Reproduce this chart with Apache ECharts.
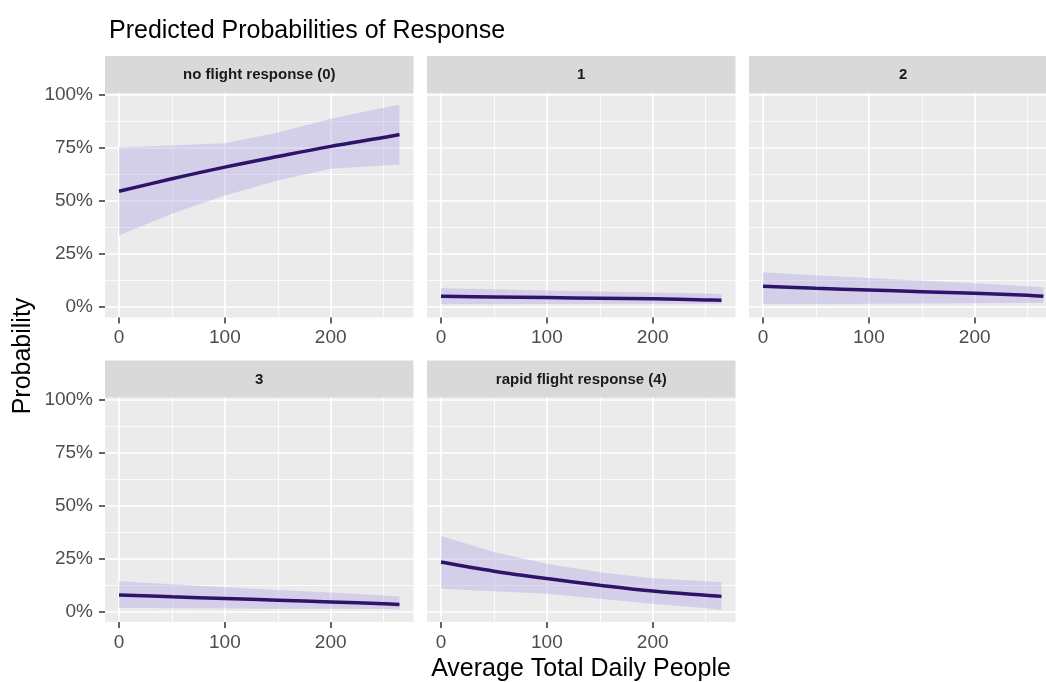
<!DOCTYPE html>
<html>
<head>
<meta charset="utf-8">
<script src="https://cdn.jsdelivr.net/npm/echarts@6/dist/echarts.min.js"></script>
<style>
html,body{margin:0;padding:0;background:#ffffff;}
#chart{width:1046px;height:682px;}
</style>
</head>
<body>
<div id="chart"></div>
<script>
// ---------------- data ----------------
const chartTitle = 'Predicted Probabilities of Response';
const xAxisTitle = 'Average Total Daily People';
const yAxisTitle = 'Probability';
const panelTitles = ['no flight response (0)', '1', '2', '3', 'rapid flight response (4)'];
const xValues = [0, 50, 100, 150, 200, 250, 265];
const xTickValues = [0, 100, 200];
const yTickValues = [0, 0.25, 0.5, 0.75, 1];

// response 0 : no flight response
const fit0   = [0.546, 0.605, 0.660, 0.710, 0.758, 0.800, 0.814];
const lower0 = [0.337, 0.440, 0.526, 0.597, 0.652, 0.668, 0.672];
const upper0 = [0.754, 0.762, 0.773, 0.824, 0.888, 0.940, 0.954];
// response 1
const fit1   = [0.050, 0.047, 0.044, 0.041, 0.038, 0.033, 0.031];
const lower1 = [0.013, 0.013, 0.014, 0.015, 0.015, 0.015, 0.015];
const upper1 = [0.088, 0.083, 0.078, 0.073, 0.068, 0.063, 0.061];
// response 2
const fit2   = [0.097, 0.088, 0.080, 0.072, 0.064, 0.055, 0.050];
const lower2 = [0.012, 0.013, 0.015, 0.016, 0.017, 0.018, 0.018];
const upper2 = [0.164, 0.150, 0.137, 0.124, 0.112, 0.098, 0.093];
// response 3
const fit3   = [0.078, 0.069, 0.061, 0.053, 0.045, 0.036, 0.033];
const lower3 = [0.016, 0.015, 0.014, 0.013, 0.012, 0.011, 0.010];
const upper3 = [0.142, 0.128, 0.114, 0.101, 0.089, 0.075, 0.070];
// response 4 : rapid flight response
const fit4   = [0.233, 0.190, 0.155, 0.124, 0.096, 0.076, 0.071];
const lower4 = [0.107, 0.095, 0.083, 0.060, 0.036, 0.015, 0.008];
const upper4 = [0.356, 0.280, 0.225, 0.185, 0.157, 0.142, 0.139];

const fits   = [fit0, fit1, fit2, fit3, fit4];
const lowers = [lower0, lower1, lower2, lower3, lower4];
const uppers = [upper0, upper1, upper2, upper3, upper4];

// ---------------- layout ----------------
const FONT = '"Liberation Sans", Arial, Helvetica, sans-serif';
const PW = 308.5, PH = 224.5, STRIP = 37;
const panelPos = [
  [105, 93], [427, 93], [749, 93],
  [105, 397.5], [427, 397.5]
];
const X_MIN = -13.25, X_MAX = 278.25;
const Y_MIN = -0.05, Y_MAX = 1.01;
const LINE_COLOR = '#2e1468';
const BAND_COLOR = '#a99fe2';

const grids = [], xAxes = [], yAxes = [], series = [], graphics = [];

panelPos.forEach(function (p, i) {
  const left = p[0], top = p[1];
  const showY = (i === 0 || i === 3);
  grids.push({
    left: left, top: top, width: PW, height: PH,
    show: true, backgroundColor: '#ebebeb', borderWidth: 0,
    containLabel: false, outerBoundsMode: 'none'
  });
  xAxes.push({
    gridIndex: i, type: 'value', position: 'bottom',
    min: X_MIN, max: X_MAX, minInterval: 100, maxInterval: 100, splitNumber: 3,
    axisLine: { show: false, onZero: false },
    axisTick: { show: true, length: 6, customValues: xTickValues, lineStyle: { color: '#333333', width: 1.5 } },
    axisLabel: {
      show: true, customValues: xTickValues, margin: 11,
      color: '#4d4d4d', fontSize: 19, fontFamily: FONT,
      formatter: function (v) { return (Math.abs(v % 100) < 1e-6) ? String(Math.round(v)) : ''; }
    },
    splitLine: { show: true, customValues: xTickValues, lineStyle: { color: '#ffffff', width: 1.7 } },
    minorTick: { show: false, splitNumber: 2 },
    minorSplitLine: { show: true, lineStyle: { color: '#ffffff', width: 0.8 } }
  });
  yAxes.push({
    gridIndex: i, type: 'value', position: 'left',
    min: Y_MIN, max: Y_MAX, minInterval: 0.25, maxInterval: 0.25, splitNumber: 4,
    axisLine: { show: false, onZero: false },
    axisTick: { show: showY, length: 6, customValues: yTickValues, lineStyle: { color: '#333333', width: 1.5 } },
    axisLabel: {
      show: showY, customValues: yTickValues, margin: 12,
      color: '#4d4d4d', fontSize: 19, fontFamily: FONT,
      formatter: function (v) {
        const r = v / 0.25;
        return (Math.abs(r - Math.round(r)) < 1e-6) ? Math.round(v * 100) + '%' : '';
      }
    },
    splitLine: { show: true, customValues: yTickValues, lineStyle: { color: '#ffffff', width: 1.7 } },
    minorTick: { show: false, splitNumber: 2 },
    minorSplitLine: { show: true, lineStyle: { color: '#ffffff', width: 0.8 } }
  });

  const bandData = xValues.map(function (x, k) { return [x, lowers[i][k], uppers[i][k]]; });
  const fitData = xValues.map(function (x, k) { return [x, fits[i][k]]; });

  // confidence ribbon: one polygon through the library's coordinate system
  series.push({
    type: 'custom', xAxisIndex: i, yAxisIndex: i, data: bandData,
    encode: { x: 0, y: [1, 2] }, silent: true, z: 2,
    renderItem: function (params, api) {
      if (params.dataIndex !== 0) return null;
      const pts = [];
      for (let k = 0; k < bandData.length; k++) {
        pts.push(api.coord([bandData[k][0], bandData[k][2]]));
      }
      for (let k = bandData.length - 1; k >= 0; k--) {
        pts.push(api.coord([bandData[k][0], bandData[k][1]]));
      }
      return {
        type: 'polygon',
        shape: { points: pts, smooth: 0 },
        style: { fill: BAND_COLOR, opacity: 0.36 }
      };
    }
  });
  series.push({
    type: 'line', xAxisIndex: i, yAxisIndex: i, data: fitData,
    symbol: 'none', smooth: 0.35, silent: true,
    lineStyle: { color: LINE_COLOR, width: 3.5 }, z: 3
  });

  // facet strip
  graphics.push({
    type: 'rect', silent: true,
    shape: { x: left, y: top - STRIP, width: PW, height: STRIP },
    style: { fill: '#d9d9d9' }
  });
  graphics.push({
    type: 'text', silent: true,
    x: left + PW / 2, y: top - STRIP / 2 + 0.5,
    style: {
      text: panelTitles[i], fill: '#1a1a1a',
      font: 'bold 15px ' + FONT,
      align: 'center', verticalAlign: 'middle',
      textAlign: 'center', textVerticalAlign: 'middle'
    }
  });
});

// axis titles
graphics.push({
  type: 'text', silent: true,
  x: 581, y: 669,
  style: {
    text: xAxisTitle, fill: '#000000', font: '25px ' + FONT,
    align: 'center', verticalAlign: 'middle', textAlign: 'center', textVerticalAlign: 'middle'
  }
});
graphics.push({
  type: 'text', silent: true,
  x: 23, y: 356, rotation: Math.PI / 2,
  style: {
    text: yAxisTitle, fill: '#000000', font: '25px ' + FONT,
    align: 'center', verticalAlign: 'middle', textAlign: 'center', textVerticalAlign: 'middle'
  }
});

const chart = echarts.init(document.getElementById('chart'), null, { renderer: 'canvas' });
chart.setOption({
  animation: false,
  backgroundColor: '#ffffff',
  title: {
    text: chartTitle, left: 104, top: 14,
    textStyle: { fontFamily: FONT, fontSize: 25, fontWeight: 'normal', color: '#000000' }
  },
  grid: grids,
  xAxis: xAxes,
  yAxis: yAxes,
  series: series,
  graphic: { elements: graphics }
});
</script>
</body>
</html>
